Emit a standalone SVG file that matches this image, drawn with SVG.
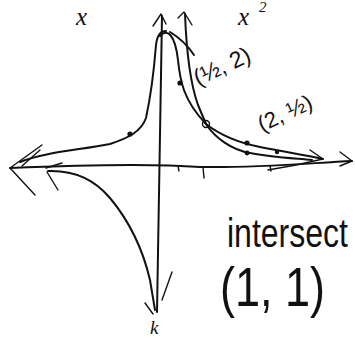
<svg xmlns="http://www.w3.org/2000/svg" width="355" height="339" viewBox="0 0 355 339">
<style>
.s{fill:none;stroke:#111;stroke-width:2;stroke-linecap:round;stroke-linejoin:round}
.t{stroke-width:1.4}
.d{fill:#111}
.hw{font-family:"Liberation Sans","DejaVu Sans",sans-serif;fill:#111}
.it{font-family:"Liberation Serif","DejaVu Serif",serif;font-style:italic;fill:#111}
</style>
<rect width="355" height="339" fill="#fff"/>
<g id="axes">
<path class="s" d="M10,168 C80,165 160,164 200,167 C260,168 310,163 352,161"/>
<path class="s t" d="M42,145 L10,168 L35,195 M40,150 L22,166"/>
<path class="s t" d="M340,152 L352,161 L340,166"/>
<path class="s" d="M162,16 C160,100 158,200 157,312"/>
<path class="s t" d="M153,26 L161,14 L166,24"/>
<path class="s t" d="M203,167 L204,178 M178,166 L179,171 M270,166 L271,171"/>
</g>
<g id="curves">
<path class="s" d="M166,31 C160,31 157,36 156,45 C154,70 151,95 146,118 C141,132 128,138 110,144 C80,150 45,152 20,162"/>
<path class="s" d="M48,171 C75,170 95,180 110,198 C130,222 143,250 150,280 L155,310"/>
<path class="s t" d="M46,168 L62,163 M47,172 L58,190"/>
<path class="s t" d="M145,303 L153,314 M172,272 L162,300"/>
<path class="s" d="M160,36 C167,28 175,34 178,60 C180,80 183,100 206,124"/>
<path class="s" d="M170,32 C180,38 188,46 194,55"/>
<path class="s" d="M185,14 C186,40 189,80 198,105 L206,124"/>
<path class="s t" d="M178,18 L184,12 L192,25"/>
<path class="s" d="M206,124 C220,135 240,143 260,147 C285,152 305,155 323,159"/>
<path class="s" d="M206,124 C215,138 232,150 250,153 C270,157 290,158 312,160"/>
<path class="s t" d="M310,150 L323,159 L296,165 L268,170"/>
<circle class="d" cx="130" cy="134" r="2.6"/>
<circle class="d" cx="180" cy="83" r="2.6"/>
<circle class="s t" cx="206" cy="124" r="3.5"/>
<circle class="d" cx="247" cy="143" r="2.6"/>
<circle class="d" cx="247" cy="153" r="2.4"/>
<circle class="d" cx="277" cy="152" r="2.2"/>
</g>
<g id="labels">
<text class="it" x="76" y="25" font-size="25">x</text>
<text class="it" x="238" y="25" font-size="25">x</text>
<text class="it" x="259" y="12" font-size="15">2</text>
<text class="it" x="150" y="334" font-size="19">k</text>
<text class="hw" font-size="23" transform="translate(198,86) rotate(-25)">(½, 2)</text>
<text class="hw" font-size="22" transform="translate(262,132) rotate(-25)">(2, ½)</text>
<text class="hw" font-size="32" transform="translate(227,247) scale(1,1.25)">intersect</text>
<text class="hw" x="220" y="306" font-size="55" textLength="105" lengthAdjust="spacingAndGlyphs">(1, 1)</text>
</g>
</svg>
